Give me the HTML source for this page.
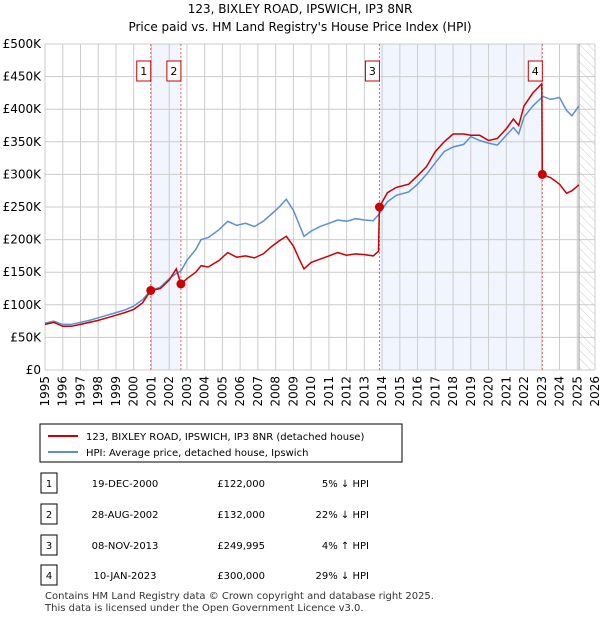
<!DOCTYPE html>
<html><head><meta charset="utf-8"><style>
body{margin:0;background:#fff;font-family:"Liberation Sans","DejaVu Sans",sans-serif;}
#wrap{position:relative;width:600px;height:620px;}
</style></head><body><div id="wrap">
<svg id="svg" width="600" height="620" xmlns="http://www.w3.org/2000/svg" font-family="DejaVu Sans, Liberation Sans, sans-serif">
<text x="300" y="13" font-size="12" text-anchor="middle">123, BIXLEY ROAD, IPSWICH, IP3 8NR</text>
<text x="300" y="31" font-size="12" text-anchor="middle">Price paid vs. HM Land Registry's House Price Index (HPI)</text>
<g id="plot"></g>
<rect x="40" y="424" width="362" height="38" fill="#fff" stroke="#000" stroke-width="1"/>
<line x1="48" y1="436" x2="78" y2="436" stroke="#cc0000" stroke-width="2"/>
<text x="86" y="440" font-size="10">123, BIXLEY ROAD, IPSWICH, IP3 8NR (detached house)</text>
<line x1="48" y1="452" x2="78" y2="452" stroke="#5b8fd6" stroke-width="2"/>
<text x="86" y="456" font-size="10">HPI: Average price, detached house, Ipswich</text>
<g id="table" font-size="10"></g>
<text x="45" y="599" font-size="10" fill="#333">Contains HM Land Registry data © Crown copyright and database right 2025.</text>
<text x="45" y="611" font-size="10" fill="#333">This data is licensed under the Open Government Licence v3.0.</text>
</svg>
<script>
const years=[1995,1995.5,1996,1996.5,1997,1997.5,1998,1998.5,1999,1999.5,2000,2000.5,2000.96,2001.5,2002,2002.4,2002.66,2003,2003.5,2003.8,2004.2,2004.8,2005.3,2005.8,2006.3,2006.8,2007.3,2007.8,2008.2,2008.6,2009.0,2009.3,2009.6,2010.0,2010.5,2011.0,2011.5,2012.0,2012.5,2013.0,2013.5,2013.8,2013.85,2014.3,2014.8,2015.5,2016.0,2016.5,2017.0,2017.5,2018.0,2018.6,2019.0,2019.5,2020.0,2020.5,2021.0,2021.4,2021.7,2022.0,2022.5,2023.0,2023.03,2023.5,2024.0,2024.4,2024.7,2025.1];
const hpiValues=[72,75,70,70,73,76,80,84,88,92,98,108,122,127,140,148,152,168,185,200,203,215,228,222,225,220,228,240,250,262,245,225,205,213,220,225,230,228,232,230,229,238,240,258,268,273,285,300,318,335,342,346,358,352,348,345,360,372,362,388,405,418,420,415,418,398,390,405];
const priceValues=[70,73,67,67,70,73,76,80,84,88,93,103,122,125,138,155,132,140,150,160,158,168,180,173,175,172,178,190,198,205,190,172,155,165,170,175,180,176,178,177,175,182,250,272,280,285,298,312,335,350,362,362,360,360,352,355,370,385,375,405,425,439,300,295,285,271,275,284];
const saleLabels=["1","2","3","4"];
const saleYears=[2000.96,2002.66,2013.85,2023.03];
const salePrices=[122,132,249.995,300];
const saleDates=["19-DEC-2000","28-AUG-2002","08-NOV-2013","10-JAN-2023"];
const salePriceText=["£122,000","£132,000","£249,995","£300,000"];
const saleHpiText=["5% ↓ HPI","22% ↓ HPI","4% ↑ HPI","29% ↓ HPI"];
const yTicks=[0,50,100,150,200,250,300,350,400,450,500];
const yTickLabels=["£0","£50K","£100K","£150K","£200K","£250K","£300K","£350K","£400K","£450K","£500K"];
const xTicks=[1995,1996,1997,1998,1999,2000,2001,2002,2003,2004,2005,2006,2007,2008,2009,2010,2011,2012,2013,2014,2015,2016,2017,2018,2019,2020,2021,2022,2023,2024,2025,2026];
const dataEnd=2025.1;

const X0=45,X1=595,Y0=370,Y1=44;
const xs=y=>X0+(y-1995)/(2026-1995)*(X1-X0);
const ys=v=>Y0-v/500*(Y0-Y1);
const NS="http://www.w3.org/2000/svg";
const plot=document.getElementById('plot');
function mk(tag,attrs,parent,txt){const e=document.createElementNS(NS,tag);for(const k in attrs)e.setAttribute(k,attrs[k]);if(txt!==undefined)e.textContent=txt;(parent||plot).appendChild(e);return e;}
for(const [a,b] of [[0,1],[2,3]]){
 const r=mk('rect',{x:xs(saleYears[a]),y:Y1,width:xs(saleYears[b])-xs(saleYears[a]),height:Y0-Y1,fill:'#eef3fd',opacity:0.8});
 
 
}
const defs=mk('defs',{});
const pat=mk('pattern',{id:'hatch',width:6,height:6,patternUnits:'userSpaceOnUse',patternTransform:'rotate(-45)'},defs);
mk('line',{x1:0,y1:0,x2:0,y2:6,stroke:'#ccc','stroke-width':1},pat);
const hr=mk('rect',{x:xs(dataEnd),y:Y1,width:X1-xs(dataEnd),height:Y0-Y1,fill:'url(#hatch)'});


yTicks.forEach((t,i)=>{
 const l=mk('line',{x1:X0,x2:X1,y1:ys(t),y2:ys(t),stroke:'#cccccc','stroke-width':1});
 
 
 const tx=mk('text',{x:X0-4,y:ys(t)+4,'font-size':12,'text-anchor':'end'},plot,yTickLabels[i]);
 
 
});
xTicks.forEach(t=>{
 const l=mk('line',{x1:xs(t),x2:xs(t),y1:Y1,y2:Y0,stroke:'#cccccc','stroke-width':1});
 
 
 const x=xs(t)+4,y=376;
 const tx=mk('text',{x:x,y:y,'font-size':12,'text-anchor':'end',transform:`rotate(-90 ${x} ${y})`},plot,String(t));
 
 
});
const el=mk('line',{x1:xs(dataEnd),x2:xs(dataEnd),y1:Y1,y2:Y0,stroke:'#999','stroke-width':1});


saleYears.forEach(y=>{
 const l=mk('line',{x1:xs(y),x2:xs(y),y1:Y1,y2:Y0,stroke:'#e06666','stroke-width':1,'stroke-dasharray':'2,2'});
 
 
});
function path(vals){return vals.map((v,i)=>(i?'L':'M')+xs(years[i]).toFixed(1)+','+ys(v).toFixed(1)).join('');}
const hp=mk('path',{d:path(hpiValues),fill:'none',stroke:'#5b8fd6','stroke-width':1.5});


const pp=mk('path',{d:path(priceValues),fill:'none',stroke:'#cc0000','stroke-width':1.5});


saleYears.forEach((y,i)=>{
 const c=mk('circle',{cx:xs(y),cy:ys(salePrices[i]),r:4.5,fill:'#cc0000'});
 
 
 const bx=xs(y)-3-14;
 const r=mk('rect',{x:bx+3,y:61,width:14,height:20,fill:'#fff',stroke:'#cc0000','stroke-width':1});
 
 
 const t=mk('text',{x:bx+10,y:75,'font-size':11,'text-anchor':'middle'},plot,saleLabels[i]);
 
 
});
const tb=document.getElementById('table');
const rowY=[483,514,545,575];
saleLabels.forEach((s,i)=>{
 const y=rowY[i];
 const r=mk('rect',{x:41,y:y-10,width:16,height:20,fill:'#fff',stroke:'#000','stroke-width':1},tb);
 
 
 const a=mk('text',{x:49,y:y+4,'text-anchor':'middle'},tb,s);
 
 
 const d=mk('text',{x:125,y:y+4,'text-anchor':'middle'},tb,saleDates[i]);
 
 
 const p=mk('text',{x:265,y:y+4,'text-anchor':'end'},tb,salePriceText[i]);
 
 
 const h=mk('text',{x:369,y:y+4,'text-anchor':'end'},tb,saleHpiText[i]);
 
 
});
</script></div></body></html>
